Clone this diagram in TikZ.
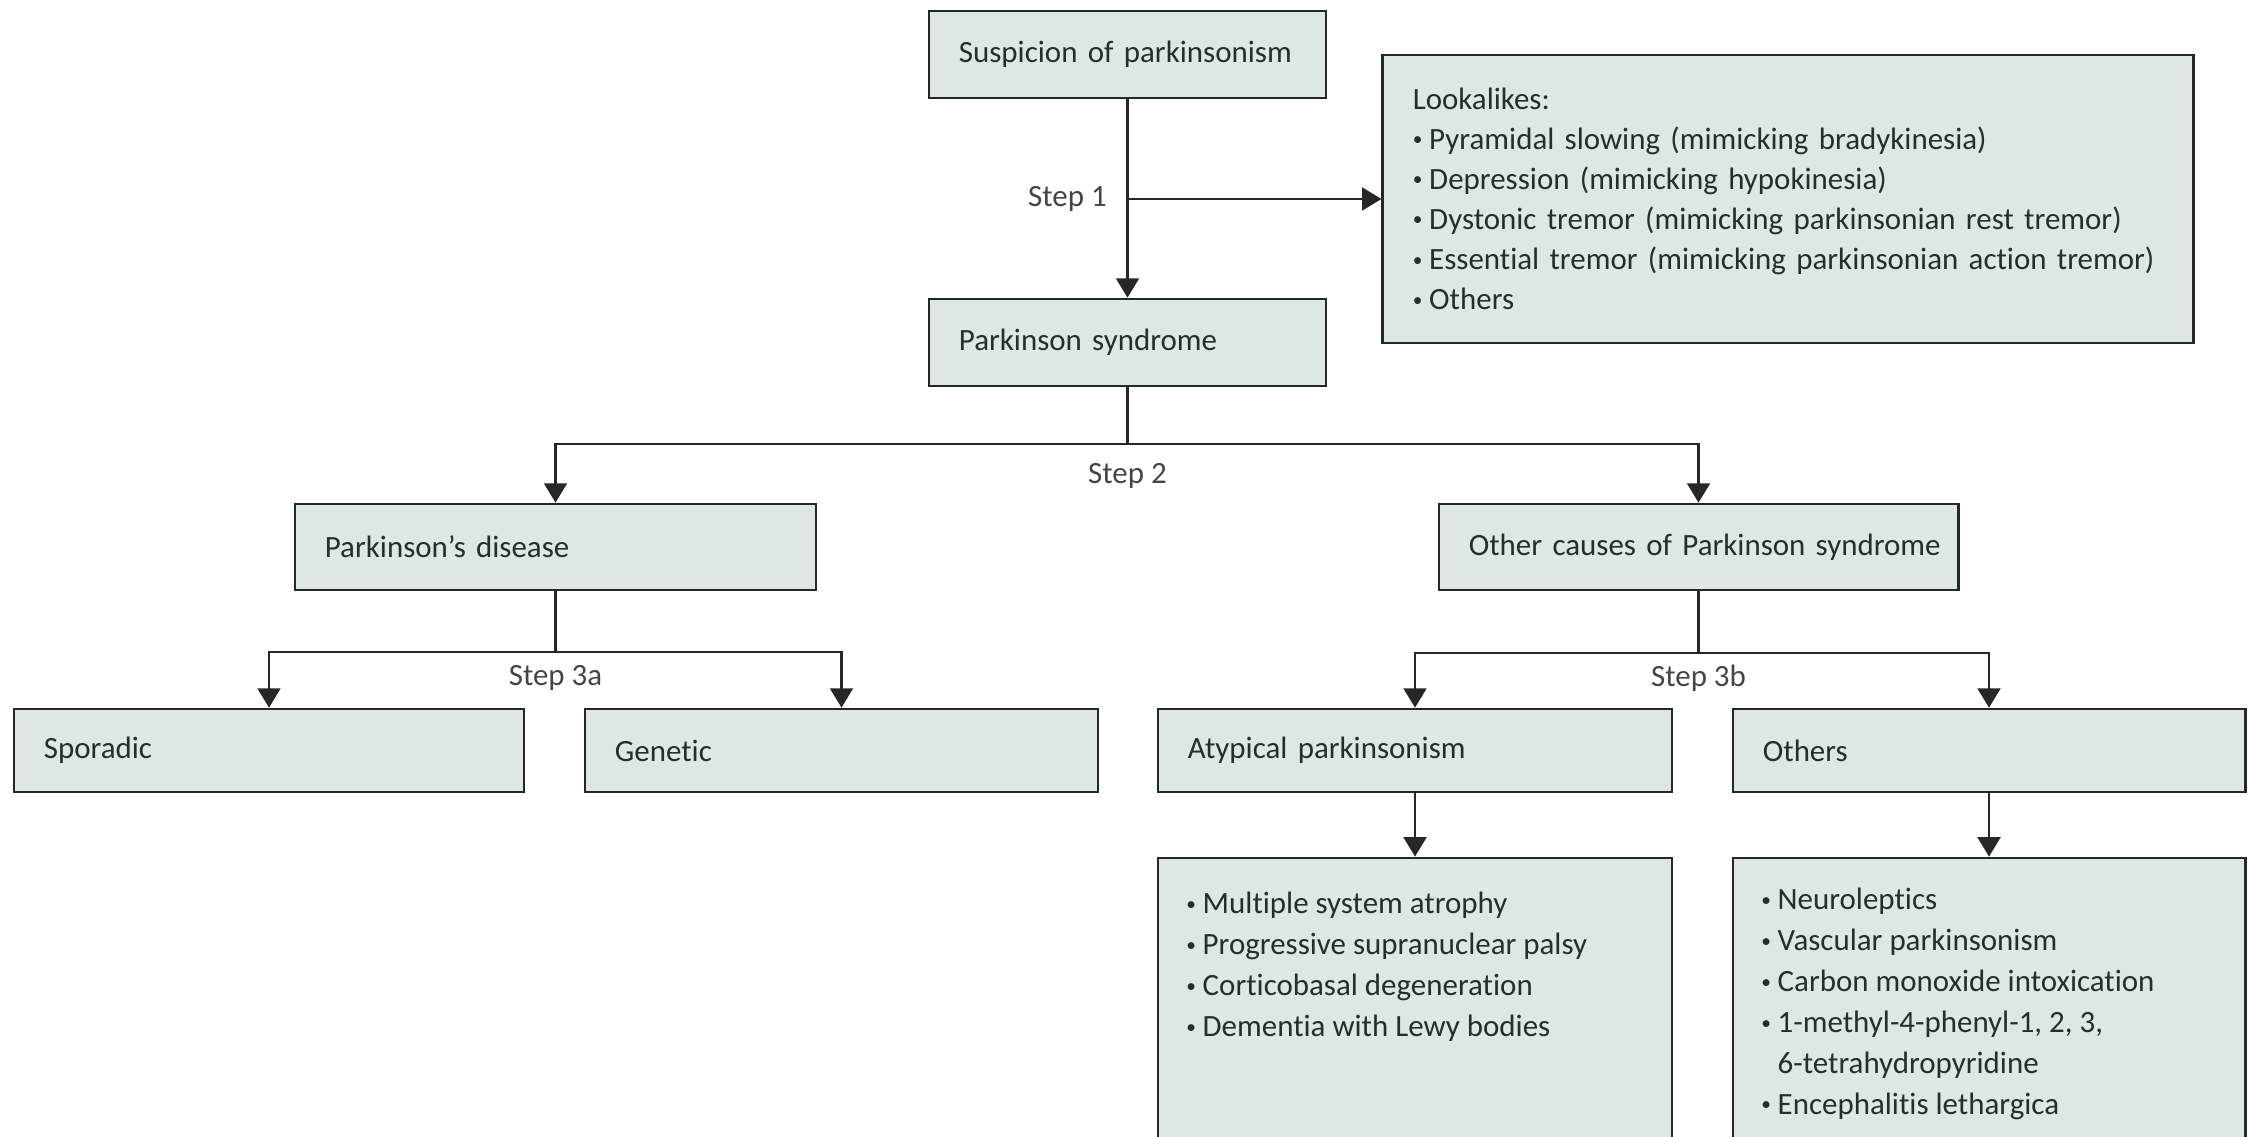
\documentclass[tikz,border=0pt]{standalone}
\usepackage{fontspec}
\usepackage{graphicx}
\setmainfont{Carlito}[Ligatures=NoCommon]
\usetikzlibrary{arrows.meta}

\definecolor{boxfill}{RGB}{220,232,225}
\definecolor{boxline}{RGB}{38,40,40}
\definecolor{ink}{RGB}{38,46,44}
\definecolor{stepink}{RGB}{68,70,70}

% small list bullet followed by a little space
\newcommand\bul{\raisebox{0.25ex}{\fontsize{5.5pt}{5.5pt}\selectfont\textbullet}\hspace{0.22em}}

\tikzset{
  box/.style={draw=boxline, line width=0.75pt, fill=boxfill, inner xsep=0.3cm,
    inner ysep=0pt, align=left, text=ink, font=\fontsize{8.8pt}{11.4pt}\selectfont},
  listtext/.style={inner sep=0pt, align=left, text=ink, anchor=north west,
    font=\fontsize{8.8pt}{11.65pt}\selectfont},
  steplbl/.style={inner sep=0pt, text=stepink, font=\fontsize{8.8pt}{10pt}\selectfont},
  conn/.style={draw=boxline, line width=0.65pt},
  arr/.style={conn, -{Triangle[length=5.5pt,width=6.5pt]}}
}

\begin{document}
\begin{tikzpicture}[x=0.01cm, y=-0.01cm]
  \useasboundingbox (0,0) rectangle (2249,1137);
  \clip (0,0) rectangle (2249,1137);

  % top of the chart
  \node[box, text width=3.37cm, minimum height=0.87cm] (susp) at (1127.5,54.5) {Suspicion of parkinsonism};
  \node[box, text width=3.37cm, minimum height=0.87cm] (ps) at (1127.5,342.5) {Parkinson syndrome};
  \node[box, text width=7.50cm, minimum height=2.88cm] (look) at (1788,199) {Lookalikes:\\
    \bul Pyramidal slowing (mimicking bradykinesia)\\
    \bul Depression (mimicking hypokinesia)\\
    \bul Dystonic tremor (mimicking parkinsonian rest tremor)\\
    \bul Essential tremor (mimicking parkinsonian action tremor)\\
    \bul Others};

  % second level
  \node[box, text width=4.61cm, minimum height=0.86cm] (pd) at (555.5,547) {Parkinson’s disease};
  \node[box, text width=4.59cm, minimum height=0.86cm] (oc) at (1698.5,547) {\mbox{Other causes of Parkinson syndrome}};

  % third level
  \node[box, text width=4.50cm, minimum height=0.83cm] (spor) at (269,750.5) {Sporadic};
  \node[box, text width=4.53cm, minimum height=0.83cm] (gen) at (841.5,750.5) {Genetic};
  \node[box, text width=4.54cm, minimum height=0.83cm] (atyp) at (1415,750.5) {Atypical parkinsonism};
  \node[box, text width=4.52cm, minimum height=0.83cm] (oth) at (1989,750.5) {Others};

  % lists at the bottom
  \node[box, text width=4.54cm, minimum height=3.42cm] (alist) at (1415,1029) {};
  \node[box, text width=4.52cm, minimum height=3.42cm] (olist) at (1989,1029) {};
  \node[listtext] (alistT) at ([xshift=0.29cm,yshift=-0.35cm]alist.north west) {%
    \bul Multiple system atrophy\\
    \bul Progressive supranuclear palsy\\
    \bul Corticobasal degeneration\\
    \bul Dementia with Lewy bodies};
  \node[listtext] (olistT) at ([xshift=0.29cm,yshift=-0.31cm]olist.north west) {%
    \bul Neuroleptics\\
    \bul Vascular parkinsonism\\
    \bul Carbon monoxide intoxication\\
    \bul 1-methyl-4-phenyl-1, 2, 3,\\
    \hphantom{\bul}6-tetrahydropyridine\\
    \bul Encephalitis lethargica};

  % step 1
  \draw[arr] (susp.south) -- (ps.north);
  \draw[arr] (susp.south |- look.west) -- (look.west);
  \node[steplbl, anchor=east] (s1) at ([xshift=-0.2cm]susp.south |- look.west) {Step 1};

  % step 2
  \draw[arr] (ps.south) -- ++(0,57) -| (pd.north);
  \draw[arr] (ps.south) -- ++(0,57) -| (oc.north);
  \node[steplbl] (s2) at ([yshift=-0.89cm]ps.south) {Step 2};

  % step 3a
  \draw[arr] (pd.south) -- ++(0,61) -| (spor.north);
  \draw[arr] (pd.south) -- ++(0,61) -| (gen.north);
  \node[steplbl] (s3a) at ([yshift=-0.87cm]pd.south) {Step 3a};

  % step 3b
  \draw[arr] (oc.south) -- ++(0,62) -| (atyp.north);
  \draw[arr] (oc.south) -- ++(0,62) -| (oth.north);
  \node[steplbl] (s3b) at ([yshift=-0.87cm]oc.south) {Step 3b};

  % down to the lists
  \draw[arr] (atyp.south) -- (alist.north);
  \draw[arr] (oth.south) -- (olist.north);
\end{tikzpicture}
\end{document}
